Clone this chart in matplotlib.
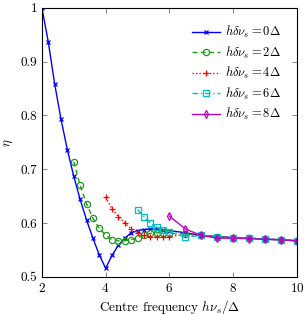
import numpy as np
import matplotlib
matplotlib.use("Agg")
import matplotlib.pyplot as plt
from matplotlib.ticker import FormatStrFormatter

plt.rcParams['font.family'] = 'serif'
plt.rcParams['font.serif'] = ['cmr10', 'DejaVu Serif']
plt.rcParams['mathtext.fontset'] = 'cm'
plt.rcParams['axes.formatter.use_mathtext'] = True

# tail shared by every series (x = 7 ... 10)
tail_x = [7.0, 7.5, 8.0, 8.5, 9.0, 9.5, 10.0]
tail_y = [0.577, 0.575, 0.573, 0.572, 0.570, 0.569, 0.567]

# detuning 0
x0 = [2.0, 2.2, 2.4, 2.6, 2.8, 3.0, 3.2, 3.4, 3.6, 3.8, 4.0, 4.2, 4.4, 4.6, 4.8,
      5.0, 5.2, 5.4, 5.6, 5.8, 6.0, 6.5] + tail_x
y0 = [1.0, 0.937, 0.859, 0.793, 0.736, 0.687, 0.644, 0.606, 0.572, 0.541, 0.516,
      0.540, 0.559, 0.572, 0.582, 0.586, 0.588, 0.589, 0.589, 0.587, 0.586,
      0.582] + tail_y

# detuning 2
x2 = [3.0, 3.2, 3.4, 3.6, 3.8, 4.0, 4.2, 4.4, 4.6, 4.8, 5.0, 5.2, 5.4, 5.6,
      5.8, 6.0, 6.5] + tail_x
y2 = [0.714, 0.670, 0.636, 0.609, 0.590, 0.578, 0.569, 0.567, 0.567, 0.569,
      0.573, 0.577, 0.581, 0.582, 0.582, 0.581, 0.580] + tail_y

# detuning 4
x4 = [4.0, 4.2, 4.4, 4.6, 4.8, 5.0, 5.2, 5.4, 5.6, 5.8, 6.0, 6.5] + tail_x
y4 = [0.648, 0.627, 0.612, 0.600, 0.589, 0.581, 0.577, 0.574, 0.574, 0.574,
      0.575, 0.579] + tail_y

# detuning 6
x6 = [5.0, 5.2, 5.4, 5.6, 5.8, 6.0, 6.5] + tail_x
y6 = [0.625, 0.612, 0.600, 0.592, 0.587, 0.584, 0.574] + tail_y

# detuning 8
x8 = [6.0, 6.5] + tail_x
y8 = [0.613, 0.589, 0.577, 0.572, 0.572, 0.571, 0.570, 0.569, 0.567]

labels = [r'$h\delta\nu_s = 0\Delta$', r'$h\delta\nu_s = 2\Delta$',
          r'$h\delta\nu_s = 4\Delta$', r'$h\delta\nu_s = 6\Delta$',
          r'$h\delta\nu_s = 8\Delta$']

fig = plt.figure(figsize=(3.08, 3.15), dpi=100)
ax = fig.add_axes([0.136, 0.121, 0.828, 0.854])

ax.plot(x0, y0, color='#0000ff', ls='-', lw=1.0, marker='x', ms=3.5, mew=0.9, label=labels[0])
ax.plot(x2, y2, color='#1f9a1f', ls=(0, (3.5, 2.5)), lw=1.0, marker='o', ms=4.5,
        mfc='none', mew=0.9, label=labels[1])
ax.plot(x4, y4, color='#ff0000', ls=(0, (1, 1.5)), lw=1.0, marker='+', ms=5, mew=0.9, label=labels[2])
ax.plot(x6, y6, color='#00bfbf', ls=(0, (4, 2, 1, 2)), lw=1.0, marker='s', ms=4.5,
        mfc='none', mew=0.9, label=labels[3])
ax.plot(x8, y8, color='#bf00bf', ls='-', lw=1.0, marker='d', ms=4,
        mfc='none', mew=0.9, label=labels[4])

ax.set_xlim(2, 10)
ax.set_ylim(0.5, 1.0)
ax.set_xticks([2, 4, 6, 8, 10])
ax.set_yticks([0.5, 0.6, 0.7, 0.8, 0.9, 1.0])
ax.yaxis.set_major_formatter(FormatStrFormatter('%g'))
ax.tick_params(direction='in', top=True, right=True, labelsize=9.5, length=3.5, width=0.5, colors='#555555',
               labelcolor='black')
for s in ax.spines.values():
    s.set_linewidth(0.8)

ax.set_xlabel(r'Centre frequency $h\nu_s/\Delta$', fontsize=9.5, labelpad=2)
ax.set_ylabel(r'$\eta$', fontsize=9.5, labelpad=4)

ax.legend(loc='upper right', frameon=False, fontsize=9, handlelength=2.2,
          handletextpad=0.4, labelspacing=0.35, borderaxespad=0.9)

fig.savefig('out.png', dpi=100)
